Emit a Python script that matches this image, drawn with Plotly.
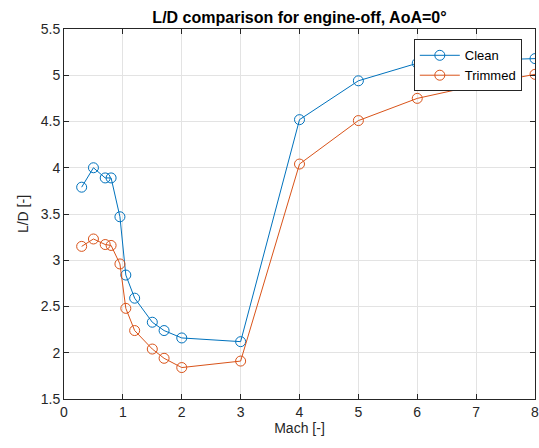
import plotly.graph_objects as go

mach_clean = [0.3, 0.5, 0.7, 0.8, 0.95, 1.05, 1.2, 1.5, 1.7, 2.0, 3.0, 4.0, 5.0, 6.0, 7.0, 8.0]
ld_clean = [3.79, 4.00, 3.89, 3.89, 3.47, 2.84, 2.59, 2.33, 2.24, 2.16, 2.12, 4.52, 4.94, 5.13, 5.16, 5.18]

mach_trim = [0.3, 0.5, 0.7, 0.8, 0.95, 1.05, 1.2, 1.5, 1.7, 2.0, 3.0, 4.0, 5.0, 6.0, 7.0, 8.0]
ld_trim = [3.15, 3.23, 3.17, 3.16, 2.96, 2.48, 2.24, 2.04, 1.94, 1.84, 1.91, 4.04, 4.51, 4.75, 4.89, 5.01]

x_ticks = list(range(0, 9))
y_ticks = [1.5, 2, 2.5, 3, 3.5, 4, 4.5, 5, 5.5]

BLUE = '#0072BD'
ORANGE = '#D95319'
AX = '#262626'
FONT = 'Liberation Sans, Arial, sans-serif'

fig = go.Figure()
fig.add_trace(go.Scatter(
    x=mach_clean, y=ld_clean, mode='lines+markers', name='Clean',
    line=dict(color=BLUE, width=1),
    marker=dict(symbol='circle-open', size=10, color=BLUE, line=dict(width=1)),
))
fig.add_trace(go.Scatter(
    x=mach_trim, y=ld_trim, mode='lines+markers', name='Trimmed',
    line=dict(color=ORANGE, width=1),
    marker=dict(symbol='circle-open', size=10, color=ORANGE, line=dict(width=1)),
))

axis_common = dict(
    showline=True, linecolor=AX, linewidth=1, mirror='ticks',
    ticks='inside', ticklen=5, tickcolor=AX, automargin=False,
    ticklabeloverflow='allow',
    showgrid=True, gridcolor='#e3e3e3', gridwidth=1,
    zeroline=False, tickfont=dict(size=14, color=AX, family=FONT),
)

fig.update_layout(
    width=539, height=448,
    paper_bgcolor='white', plot_bgcolor='white',
    margin=dict(l=64, r=4, t=29, b=49),
    font=dict(family=FONT, color=AX),
    title=dict(text='<b>L/D comparison for engine-off, AoA=0°</b>',
               xref='paper', x=0.5, xanchor='center', y=0.962, yanchor='middle',
               font=dict(size=16, color='black', family=FONT)),
    xaxis=dict(range=[0, 8], tickvals=x_ticks,
               title=dict(text='Mach [-]', font=dict(size=14, color=AX), standoff=4),
               **axis_common),
    yaxis=dict(range=[1.5, 5.5], tickvals=y_ticks,
               ticktext=[('%g' % v) for v in y_ticks],
               title=dict(text='L/D [-]', font=dict(size=14, color=AX), standoff=8),
               **axis_common),
    legend=dict(x=0.972, y=0.972, xanchor='right', yanchor='top',
                bgcolor='white', bordercolor=AX, borderwidth=1,
                font=dict(size=13, color='black', family=FONT),
                itemwidth=40, tracegroupgap=0),
    showlegend=True,
)

# drop the default 8px body margin so the figure fills the window exactly
fig.write_html("out.html", config={'displayModeBar': False},
               post_script="document.body.style.margin='0';")
